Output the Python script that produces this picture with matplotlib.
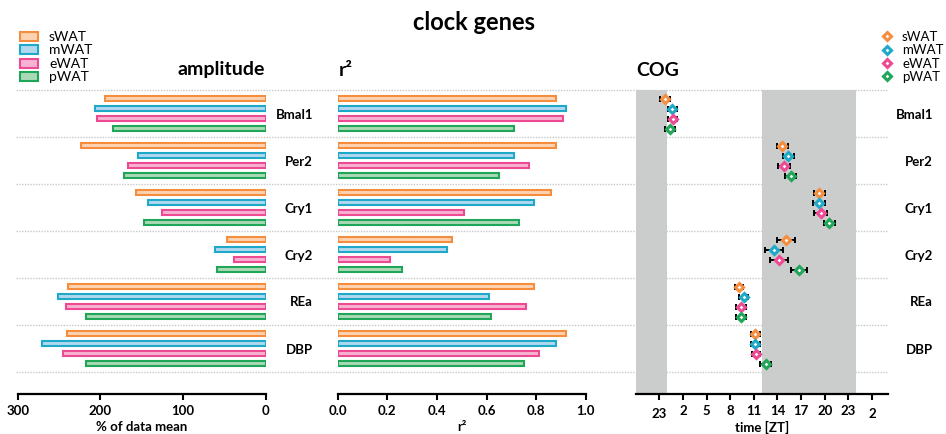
import matplotlib
matplotlib.use('Agg')
import matplotlib.pyplot as plt
import matplotlib.transforms as mtransforms
from matplotlib.patches import Rectangle
from matplotlib.lines import Line2D
import numpy as np

plt.rcParams['font.family'] = ['Lato', 'DejaVu Sans']

# data
genes = ['Bmal1', 'Per2', 'Cry1', 'Cry2', 'REa', 'DBP']
tissues = ['sWAT', 'mWAT', 'eWAT', 'pWAT']

amp_swat = [195, 224, 157, 47, 239, 240]
amp_mwat = [207, 154, 142, 61, 251, 271]
amp_ewat = [204, 167, 125, 38, 241, 245]
amp_pwat = [185, 171, 147, 59, 217, 217]

r2_swat = [0.88, 0.88, 0.86, 0.46, 0.79, 0.92]
r2_mwat = [0.92, 0.71, 0.79, 0.44, 0.61, 0.88]
r2_ewat = [0.91, 0.77, 0.51, 0.21, 0.76, 0.81]
r2_pwat = [0.71, 0.65, 0.73, 0.26, 0.62, 0.75]

# COG in hours (axis runs from ZT20 of previous day, -1 == ZT23)
cog_swat = [-0.3, 14.6, 19.3, 15.1, 9.1, 11.2]
cog_mwat = [0.65, 15.4, 19.3, 13.6, 9.7, 11.2]
cog_ewat = [0.7, 14.8, 19.5, 14.2, 9.4, 11.25]
cog_pwat = [0.4, 15.7, 20.6, 16.75, 9.35, 12.5]

err_swat = [0.6, 0.68, 0.72, 1.1, 0.55, 0.55]
err_mwat = [0.57, 0.72, 0.74, 1.12, 0.55, 0.53]
err_ewat = [0.6, 0.74, 0.83, 1.19, 0.61, 0.51]
err_pwat = [0.63, 0.7, 0.74, 1.04, 0.64, 0.68]

cog_ticks = [-1, 2, 5, 8, 11, 14, 17, 20, 23, 26]
cog_ticklabels = ['23', '2', '5', '8', '11', '14', '17', '20', '23', '2']

amps = [amp_swat, amp_mwat, amp_ewat, amp_pwat]
r2s = [r2_swat, r2_mwat, r2_ewat, r2_pwat]
cogs = [cog_swat, cog_mwat, cog_ewat, cog_pwat]
errs = [err_swat, err_mwat, err_ewat, err_pwat]

edge_cols = ['#F58D3F', '#1EA9C9', '#EE4A93', '#20A659']
face_cols = ['#FDD2B2', '#B2D8EE', '#F7B3D1', '#A9D9B5']

grp = 4.7
seps = [i * grp for i in range(len(genes) + 1)]
centers = np.array([i * grp + grp / 2 for i in range(len(genes))])
offs = [-1.5, -0.5, 0.5, 1.5]

fig = plt.figure(figsize=(9.46, 4.35), dpi=100)
W, H = 946, 435
bot = (H - 395) / H
hgt = (395 - 91) / H
ax1 = fig.add_axes([17.7 / W, bot, 248 / W, hgt])
ax2 = fig.add_axes([337.7 / W, bot, 248 / W, hgt])
ax3 = fig.add_axes([635.7 / W, bot, 252 / W, hgt])

for ax in (ax1, ax2, ax3):
    ax.set_facecolor('none')
    for s in ['left', 'right', 'top']:
        ax.spines[s].set_visible(False)
    ax.spines['bottom'].set_linewidth(1.6)
    ax.set_yticks([])
    ax.set_ylim(30.4, 0)
    ax.tick_params(axis='x', length=4, width=1.5, pad=3.5)

# amplitude
for j in range(4):
    ax1.barh(centers + offs[j], amps[j], height=0.55, color=face_cols[j],
             edgecolor=edge_cols[j], linewidth=1.5, zorder=3)
ax1.set_xlim(300, 0)
ax1.set_xticks([300, 200, 100, 0], ['300', '200', '100', '0'], fontsize=9.5, fontweight='bold')
ax1.set_xlabel('% of data mean', fontsize=9.5, fontweight='bold')

# r2
for j in range(4):
    ax2.barh(centers + offs[j], r2s[j], height=0.55, color=face_cols[j],
             edgecolor=edge_cols[j], linewidth=1.5, zorder=3)
ax2.set_xlim(0, 1)
ax2.set_xticks([0, 0.2, 0.4, 0.6, 0.8, 1.0], ['0.0', '0.2', '0.4', '0.6', '0.8', '1.0'],
               fontsize=9.5, fontweight='bold')
ax2.set_xlabel('r²', fontsize=9.5, fontweight='bold')

# COG
ax3.set_xlim(-4, 28)
ax3.axvspan(-4, 0, color='#cbcccc', lw=0, zorder=1)
ax3.axvspan(12, 24, color='#cbcccc', lw=0, zorder=1)
for j in range(4):
    ax3.errorbar(cogs[j], centers + offs[j], xerr=errs[j], fmt='none', ecolor='black',
                 elinewidth=1.4, capsize=2.5, capthick=1.4, zorder=4)
    ax3.plot(cogs[j], centers + offs[j], ls='none', marker='D', ms=3.8, mfc='white',
             mec=edge_cols[j], mew=2.2, zorder=5)
ax3.set_xticks(cog_ticks, cog_ticklabels, fontsize=9.5, fontweight='bold')
ax3.set_xlabel('time [ZT]', fontsize=9.5, fontweight='bold')
lbls = ax3.get_xticklabels()
for lbl in [lbls[0], lbls[-1]]:
    lbl.set_transform(lbl.get_transform() + mtransforms.ScaledTranslation(0, -2 / 72, fig.dpi_scale_trans))

for ax in (ax1, ax2, ax3):
    ax.xaxis.set_label_coords(0.5, (395 - 421) / 304)

# dotted separators across the whole figure
trans = mtransforms.blended_transform_factory(fig.transFigure, ax3.transData)
for s in seps:
    ax3.plot([16 / W, 888 / W], [s, s], transform=trans, clip_on=False, ls=(0, (1, 1)),
             color='#c8c8c8', lw=1, zorder=0)

# gene labels
t1 = mtransforms.blended_transform_factory(fig.transFigure, ax1.transData)
for g, c in zip(genes, centers):
    ax1.text(313 / W, c, g, transform=t1, ha='right', va='center', fontsize=9.5, fontweight='bold')
    ax1.text(933 / W, c, g, transform=t1, ha='right', va='center', fontsize=9.5, fontweight='bold')

# panel headings
fig.text(265 / W, 1 - 70 / H, 'amplitude', ha='right', va='center', fontsize=14, fontweight='bold')
fig.text(339 / W, 1 - 70 / H, 'r²', ha='left', va='center', fontsize=14, fontweight='bold')
fig.text(636 / W, 1 - 70 / H, 'COG', ha='left', va='center', fontsize=14, fontweight='bold')
fig.text(474 / W, 1 - 22 / H, 'clock genes', ha='center', va='center', fontsize=17, fontweight='bold')

# legends
leg_y = [37, 50.5, 64, 77]
for j, name in enumerate(tissues):
    fig.patches.append(Rectangle((20 / W, 1 - (leg_y[j] + 4.5) / H), 18 / W, 9 / H,
                                 transform=fig.transFigure, facecolor=face_cols[j],
                                 edgecolor=edge_cols[j], lw=1.5))
    fig.text(49 / W, 1 - leg_y[j] / H, name, ha='left', va='center', fontsize=10)
    fig.lines.append(Line2D([887 / W], [1 - leg_y[j] / H], transform=fig.transFigure,
                            ls='none', marker='D', ms=3.8, mfc='white', mec=edge_cols[j], mew=2.2))
    fig.text(902 / W, 1 - leg_y[j] / H, name, ha='left', va='center', fontsize=9.5)

plt.savefig('out.png', dpi=100)
